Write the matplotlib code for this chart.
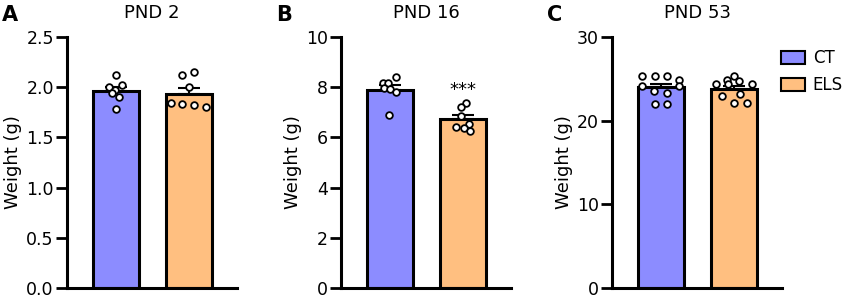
import matplotlib
matplotlib.use("Agg")
import matplotlib.pyplot as plt
import numpy as np
from matplotlib.patches import Patch

plt.rcParams['font.family'] = ['DejaVu Sans']

groups = ["CT", "ELS"]
colors = ["#8c8cff", "#ffbf80"]
titles = ["PND 2", "PND 16", "PND 53"]
letters = ["A", "B", "C"]
ymaxes = [2.5, 10, 30]
yticks = [[0.0, 0.5, 1.0, 1.5, 2.0, 2.5], [0, 2, 4, 6, 8, 10], [0, 10, 20, 30]]
ticklabels = [["0.0", "0.5", "1.0", "1.5", "2.0", "2.5"],
              ["0", "2", "4", "6", "8", "10"],
              ["0", "10", "20", "30"]]

# individual animals (g)
pnd2_ct = [2.12, 2.02, 2.00, 1.97, 1.94, 1.90, 1.78]
pnd2_els = [2.12, 2.15, 2.00, 1.84, 1.83, 1.82, 1.80]
pnd16_ct = [8.40, 8.18, 8.18, 7.97, 7.92, 7.79, 6.90]
pnd16_els = [7.37, 7.22, 6.84, 6.55, 6.41, 6.38, 6.25]
pnd53_ct = [25.3, 25.3, 25.3, 24.9, 24.1, 24.1, 23.6, 23.3, 22.0, 22.0]
pnd53_els = [24.35, 24.9, 25.3, 24.7, 24.35, 24.4, 23.2, 22.9, 22.1, 22.1]

panels = [(pnd2_ct, pnd2_els), (pnd16_ct, pnd16_els), (pnd53_ct, pnd53_els)]
# horizontal scatter of the dots (bar widths)
jitter_ct = [[0, 0.09, -0.09, -0.01, -0.06, 0.04, 0],
             [0.08, -0.1, -0.02, -0.08, 0.0, 0.08, -0.01],
             [-0.26, -0.08, 0.08, 0.25, -0.26, 0.25, -0.1, 0.08, -0.08, 0.08]]
jitter_els = [[-0.09, 0.07, 0, -0.25, -0.09, 0.07, 0.24],
              [0.05, -0.03, -0.03, 0.08, -0.1, 0.02, 0.1],
              [-0.25, -0.1, 0, 0.07, 0.25, -0.08, 0.08, -0.16, 0, 0.18]]

fig = plt.figure(figsize=(8.5, 2.98), dpi=100)
lefts = [67 / 850, 341 / 850, 612 / 850]

for i in range(3):
    ax = fig.add_axes([lefts[i], 10 / 298, 170 / 850, 251 / 298])
    ct, els = panels[i]
    for j, vals in enumerate([ct, els]):
        m = np.mean(vals)
        sem = np.std(vals, ddof=1) / np.sqrt(len(vals))
        ax.bar(j, m, width=0.63, color=colors[j], edgecolor="black", linewidth=2.2, zorder=2)
        ax.errorbar(j, m, yerr=[[0], [sem]], color="black", capsize=8, capthick=1.5,
                    elinewidth=1.5, zorder=3)
        jit = [jitter_ct, jitter_els][j][i]
        ax.plot(np.array(jit) + j, vals, "o", ms=4.8, mfc="white", mec="black",
                mew=1.3, zorder=4, clip_on=False)
    ax.set_xlim(-0.67, 1.66)
    ax.set_ylim(0, ymaxes[i])
    ax.set_yticks(yticks[i])
    ax.set_yticklabels(ticklabels[i])
    ax.set_xticks([])
    ax.spines["top"].set_visible(False)
    ax.spines["right"].set_visible(False)
    ax.spines["left"].set_linewidth(2.2)
    ax.spines["bottom"].set_linewidth(2.2)
    ax.tick_params(axis="y", width=2, length=8, labelsize=12.5, pad=1.5)
    ax.set_ylabel("Weight (g)", fontsize=13, labelpad=3)
    ax.set_title(titles[i], fontsize=13, pad=14)
    if i == 1:
        ax.text(1, 7.9, "***", ha="center", va="center", fontsize=13)
    fig.text(lefts[i] - 65 / 850, 0.95, letters[i], fontsize=15, fontweight="bold",
             ha="left", va="center")

handles = [Patch(facecolor=colors[k], edgecolor="black", linewidth=1.5) for k in range(2)]
fig.legend(handles, groups, loc="upper left", bbox_to_anchor=(781 / 850, 1 - 49 / 298),
           frameon=False, fontsize=12, handlelength=1.45, handleheight=0.8,
           handletextpad=0.45, labelspacing=0.55, borderpad=0, borderaxespad=0)

fig.savefig("out.png", dpi=100)
